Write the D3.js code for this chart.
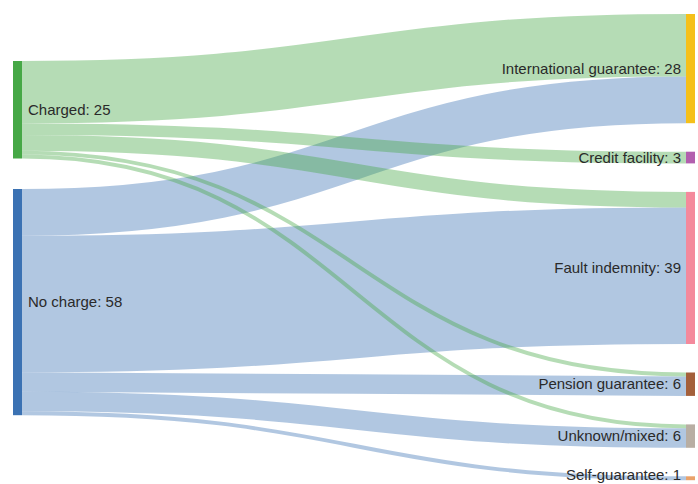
<!DOCTYPE html>
<html>
<head>
<meta charset="utf-8">
<script src="https://cdn.jsdelivr.net/npm/d3@7"></script>
<style>
  html, body { margin: 0; padding: 0; background: #fff; }
  svg { display: block; }
</style>
</head>
<body>
<div id="chart"></div>
<script>
// ---- data ----
const sourceNames = ["Charged", "No charge"];
const targetNames = ["International guarantee", "Credit facility", "Fault indemnity",
                     "Pension guarantee", "Unknown/mixed", "Self-guarantee"];
// flows from each source to each target (same order as targetNames)
const chargedFlows  = [16, 3, 4, 1, 1, 0];
const noChargeFlows = [12, 0, 35, 5, 5, 1];
const sourceColors = ["#46a846", "#3b72b3"];
const targetColors = ["#f5c01a", "#b25fae", "#f4899c", "#a45f3a", "#b8aea3", "#eaa26a"];

// ---- layout ----
const W = 698, H = 484;
const nodeW = 9;
const leftX = 13, rightX = 686;
const rightTop = 14, rightBottom = 480.2, rightPad = 28.5;
const leftTop = 61, leftPad = 30.5;
const fontSize = 15;

const flows = [chargedFlows, noChargeFlows];
const sources = sourceNames.map((name, i) => ({
  name, color: sourceColors[i], value: d3.sum(flows[i]), side: "left"
}));
const targets = targetNames.map((name, j) => ({
  name, color: targetColors[j], value: d3.sum(flows, f => f[j]), side: "right"
}));
const total = d3.sum(targets, d => d.value);
const ky = (rightBottom - rightTop - (targets.length - 1) * rightPad) / total;
const yScale = d3.scaleLinear().domain([0, total]).range([0, total * ky]);

let y = rightTop;
targets.forEach(t => { t.x0 = rightX; t.x1 = rightX + nodeW; t.y0 = y; t.y1 = y + yScale(t.value); y = t.y1 + rightPad; });
y = leftTop;
sources.forEach(s => { s.x0 = leftX; s.x1 = leftX + nodeW; s.y0 = y; s.y1 = y + yScale(s.value); y = s.y1 + leftPad; });

const links = [];
flows.forEach((f, i) => f.forEach((v, j) => {
  if (v > 0) links.push({ source: sources[i], target: targets[j], value: v, width: yScale(v) });
}));
// offsets at source (ordered by target position)
sources.forEach(s => {
  let off = s.y0;
  links.filter(l => l.source === s).sort((a, b) => a.target.y0 - b.target.y0)
    .forEach(l => { l.sy = off + l.width / 2; off += l.width; });
});
// offsets at target (ordered by source position)
targets.forEach(t => {
  let off = t.y0;
  links.filter(l => l.target === t).sort((a, b) => a.source.y0 - b.source.y0)
    .forEach(l => { l.ty = off + l.width / 2; off += l.width; });
});

const svg = d3.select("#chart").append("svg").attr("width", W).attr("height", H);

const linkGen = d3.linkHorizontal()
  .source(d => [d.source.x1, d.sy])
  .target(d => [d.target.x0, d.ty]);

// draw "No charge" links first, "Charged" links on top
const drawOrder = links.slice().sort((a, b) => sources.indexOf(b.source) - sources.indexOf(a.source));
svg.append("g").attr("fill", "none")
  .selectAll("path").data(drawOrder).join("path")
  .attr("d", linkGen)
  .attr("stroke", d => d.source.color)
  .attr("stroke-opacity", 0.4)
  .attr("stroke-width", d => Math.max(1, d.width));

const nodes = sources.concat(targets);
svg.append("g").selectAll("rect").data(nodes).join("rect")
  .attr("x", d => d.x0).attr("y", d => d.y0)
  .attr("width", d => d.x1 - d.x0).attr("height", d => d.y1 - d.y0)
  .attr("fill", d => d.color);

// label baseline, kept inside the canvas so descenders are not clipped
const baseline = d => Math.min((d.y0 + d.y1) / 2 + fontSize * 0.35, H - fontSize * 0.28);
svg.append("g")
  .attr("font-family", "'Liberation Sans', Arial, sans-serif")
  .attr("font-size", fontSize)
  .attr("fill", "#2a2a2a")
  .selectAll("text").data(nodes).join("text")
  .attr("x", d => d.side === "left" ? d.x1 + 6 : d.x0 - 5)
  .attr("y", baseline)
  .attr("text-anchor", d => d.side === "left" ? "start" : "end")
  .text(d => `${d.name}: ${d.value}`);
</script>
</body>
</html>
